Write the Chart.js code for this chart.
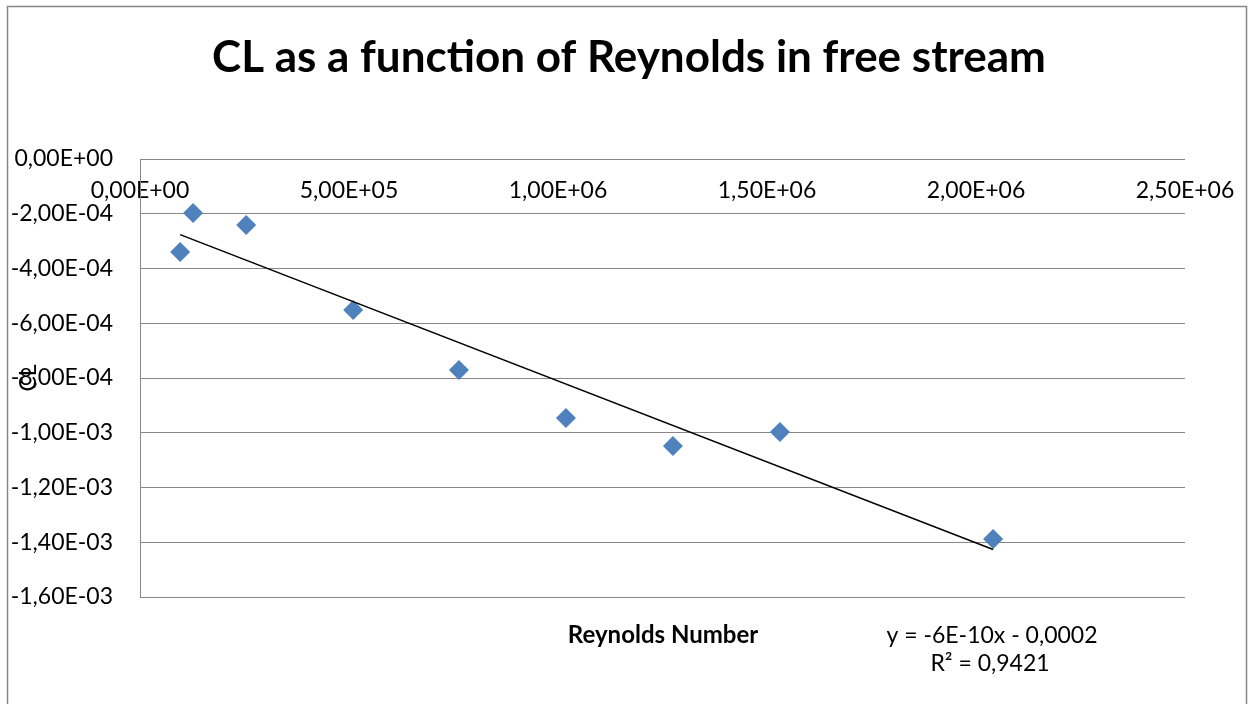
<!DOCTYPE html>
<html>
<head>
<meta charset="utf-8">
<script src="https://cdn.jsdelivr.net/npm/chart.js@4.4.1/dist/chart.umd.min.js"></script>
<style>
  html, body { margin: 0; padding: 0; background: #fff; }
  #wrap { width: 1253px; height: 704px; position: relative; }
</style>
</head>
<body>
<div id="wrap"><canvas id="clChart" width="1253" height="704"></canvas></div>
<script>
// data
const reynolds = [96000, 127000, 254000, 510000, 763000, 1019000, 1275000, 1531000, 2041000];
const clValues = [-3.40e-4, -1.97e-4, -2.41e-4, -5.52e-4, -7.71e-4, -9.46e-4, -1.048e-3, -9.97e-4, -1.388e-3];

const chartTitle = "CL as a function of Reynolds in free stream";
const xTitle = "Reynolds Number";
const yTitle = "CL";
const trendEquation = "y = -6E-10x - 0,0002";
const trendR2 = "R² = 0,9421";

const FONT = "Lato";
const GRID = "#878787";

// excel-like "0,00E+00"
function sci(v) {
  if (Math.abs(v) < 1e-15) return "0,00E+00";
  const parts = v.toExponential(2).split("e");
  const exp = parseInt(parts[1], 10);
  const sign = exp < 0 ? "-" : "+";
  return parts[0].replace(".", ",") + "E" + sign + String(Math.abs(exp)).padStart(2, "0");
}

// linear trendline (least squares) over the points
function trendline(xs, ys) {
  const n = xs.length;
  const mx = xs.reduce((a, b) => a + b, 0) / n;
  const my = ys.reduce((a, b) => a + b, 0) / n;
  let sxy = 0, sxx = 0;
  for (let i = 0; i < n; i++) {
    sxy += (xs[i] - mx) * (ys[i] - my);
    sxx += (xs[i] - mx) * (xs[i] - mx);
  }
  const slope = sxy / sxx;
  const icpt = my - slope * mx;
  const x0 = Math.min(...xs), x1 = Math.max(...xs);
  return [{ x: x0, y: icpt + slope * x0 }, { x: x1, y: icpt + slope * x1 }];
}

const points = reynolds.map((x, i) => ({ x: x, y: clValues[i] }));

const decorations = {
  id: "decorations",
  afterDraw(chart) {
    const ctx = chart.ctx;
    ctx.save();
    // outer frame
    ctx.strokeStyle = GRID;
    ctx.lineWidth = 1.5;
    ctx.strokeRect(7.5, 6.5, 1239, 740);

    ctx.fillStyle = "#000";
    ctx.textAlign = "center";
    ctx.textBaseline = "alphabetic";
    ctx.font = "bold 44px " + FONT;
    ctx.fillText(chartTitle, 629, 72);

    ctx.font = "bold 24px " + FONT;
    ctx.fillText(xTitle, 663, 643);

    ctx.font = "23px " + FONT;
    ctx.fillText(trendEquation, 992, 643);
    ctx.fillText(trendR2, 990, 671);

    // rotated y title, sits on top of the tick labels like in the original
    ctx.translate(36, 378);
    ctx.rotate(-Math.PI / 2);
    ctx.font = "23px " + FONT;
    ctx.fillText(yTitle, 0, 0);
    ctx.restore();
  }
};

new Chart(document.getElementById("clChart"), {
  type: "scatter",
  data: {
    datasets: [
      {
        label: "CL",
        data: points,
        pointStyle: "rectRot",
        pointRadius: 10,
        pointHoverRadius: 10,
        backgroundColor: "#4F81BD",
        borderColor: "#4F81BD",
        borderWidth: 0,
        order: 1,
      },
      {
        label: "Linear (CL)",
        type: "line",
        data: trendline(reynolds, clValues),
        borderColor: "#000",
        borderWidth: 1.5,
        pointRadius: 0,
        fill: false,
        order: 0,
      },
    ],
  },
  options: {
    responsive: false,
    animation: false,
    layout: { padding: { top: 159, left: 0, right: 68, bottom: 107 } },
    plugins: {
      legend: { display: false },
      title: { display: false },
      tooltip: { enabled: false },
    },
    scales: {
      x: {
        type: "linear",
        position: { y: 0 },
        min: 0,
        max: 2500000,
        grid: { display: false, drawTicks: false },
        border: { display: false },
        ticks: {
          stepSize: 500000,
          autoSkip: false,
          maxRotation: 0,
          padding: 18,
          color: "#000",
          font: { family: FONT, size: 23 },
          callback: (v) => sci(v),
        },
      },
      y: {
        type: "linear",
        position: "left",
        min: -0.0016,
        max: 0,
        afterFit(scale) { scale.width = 140; },
        grid: { color: GRID, lineWidth: 1, drawTicks: false },
        border: { display: true, color: GRID, width: 1 },
        ticks: {
          stepSize: 0.0002,
          padding: 27,
          color: "#000",
          font: { family: FONT, size: 23 },
          callback: (v) => sci(v),
        },
      },
    },
  },
  plugins: [decorations],
});
</script>
</body>
</html>
